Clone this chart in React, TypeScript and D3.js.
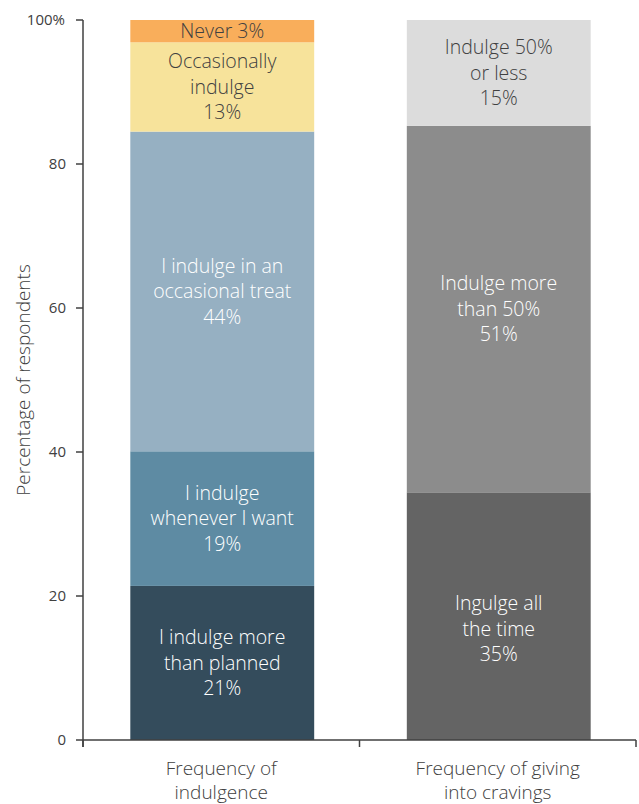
import React from "react";
import * as d3 from "d3";

const categories = ["Frequency of\nindulgence", "Frequency of giving\ninto cravings"];
const bar1Labels = ["I indulge more\nthan planned\n21%", "I indulge\nwhenever I want\n19%", "I indulge in an\noccasional treat\n44%", "Occasionally\nindulge\n13%", "Never 3%"];
const bar1Values = [21.4, 18.7, 44.4, 12.4, 3.1];
const bar1Colors = ["#344c5c", "#5e8ba3", "#96b0c2", "#f7e39b", "#f9ae5b"];
const bar1TextColors = ["#ffffff", "#ffffff", "#ffffff", "#404040", "#404040"];
const bar2Labels = ["Ingulge all\nthe time\n35%", "Indulge more\nthan 50%\n51%", "Indulge 50%\nor less\n15%"];
const bar2Values = [34.4, 50.9, 14.7];
const bar2Colors = ["#646464", "#8c8c8c", "#dcdcdc"];
const bar2TextColors = ["#ffffff", "#ffffff", "#404040"];
const yTicks = [0, 20, 40, 60, 80, 100];
const yTickLabels = ["0", "20", "40", "60", "80", "100%"];

const W = 639;
const H = 804;
const FONT = "'Open Sans', 'Noto Sans', sans-serif";
const INK = "#404040";

export default function App() {
  const y = d3.scaleLinear().domain([0, 100]).range([740, 20]);
  const x = d3.scaleBand<string>().domain(categories).range([83, 636]).padding(0);
  const barW = x.bandwidth() * 0.665;

  const bars = [
    { cat: categories[0], values: bar1Values, labels: bar1Labels, colors: bar1Colors, text: bar1TextColors, shift: [0, 0, 0, 0, 0] },
    { cat: categories[1], values: bar2Values, labels: bar2Labels, colors: bar2Colors, text: bar2TextColors, shift: [13, 0, 0] },
  ];

  const lineH = 25.5;

  return (
    <div style={{ position: "absolute", left: 0, top: 0 }}>
      <svg width={W} height={H} style={{ display: "block", background: "#fff" }}>
        {bars.map((b, bi) => {
          const cx = (x(b.cat) as number) + x.bandwidth() / 2 + 1;
          const cum = d3.cumsum(b.values);
          return (
            <g key={bi}>
              {b.values.map((v, i) => {
                const y0 = i === 0 ? 0 : cum[i - 1];
                const y1 = cum[i];
                const top = y(y1);
                const bottom = y(y0);
                const lines = b.labels[i].split("\n");
                const mid = (top + bottom) / 2 + b.shift[i];
                const startY = mid - ((lines.length - 1) * lineH) / 2;
                return (
                  <g key={i}>
                    <rect x={cx - barW / 2} y={top} width={barW} height={bottom - top} fill={b.colors[i]} />
                    <text
                      textAnchor="middle"
                      fontFamily={FONT}
                      fontSize={19.5}
                      fontWeight={350}
                      fill={b.text[i]}
                    >
                      {lines.map((ln, li) => (
                        <tspan key={li} x={cx} y={startY + li * lineH} dy="0.35em">
                          {ln}
                        </tspan>
                      ))}
                    </text>
                  </g>
                );
              })}
            </g>
          );
        })}

        {/* Y axis */}
        <line x1={83} x2={83} y1={y(100)} y2={747} stroke={INK} strokeWidth={1.5} />
        {yTicks.map((t, i) => (
          <g key={t}>
            <line x1={76} x2={83} y1={y(t)} y2={y(t)} stroke={INK} strokeWidth={1.5} />
            <text
              x={i === yTicks.length - 1 ? 65 : 66}
              y={y(t)}
              dy="0.35em"
              textAnchor="end"
              fontFamily={FONT}
              fontSize={15}
              fontWeight={400}
              fill={INK}
            >
              {yTickLabels[i]}
            </text>
          </g>
        ))}
        <text
          transform={`translate(30, ${(y(0) + y(100)) / 2}) rotate(-90)`}
          textAnchor="middle"
          fontFamily={FONT}
          fontSize={19}
          fontWeight={350}
          fill={INK}
        >
          Percentage of respondents
        </text>

        {/* X axis */}
        <line x1={83} x2={636} y1={740} y2={740} stroke={INK} strokeWidth={1.5} />
        {[...categories.map((c) => x(c) as number), 636].map((px, i) => (
          <line key={i} x1={px} x2={px} y1={740} y2={747} stroke={INK} strokeWidth={1.5} />
        ))}
        {categories.map((c, i) => {
          const cx = (x(c) as number) + x.bandwidth() / 2;
          return (
            <text key={i} textAnchor="middle" fontFamily={FONT} fontSize={19} fontWeight={350} fill={INK}>
              {c.split("\n").map((ln, li) => (
                <tspan key={li} x={cx} y={768 + li * 24} dy="0.35em">
                  {ln}
                </tspan>
              ))}
            </text>
          );
        })}
      </svg>
    </div>
  );
}
